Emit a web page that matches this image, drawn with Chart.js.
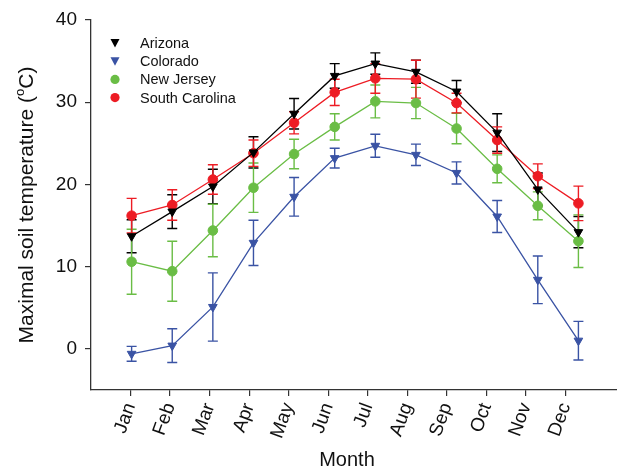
<!DOCTYPE html>
<html>
<head>
<meta charset="utf-8">
<script src="https://cdn.jsdelivr.net/npm/chart.js@4"></script>
<style>
  html, body { margin: 0; padding: 0; background: #fff; }
  canvas { display: block; }
</style>
</head>
<body>
<canvas id="grafico" width="617" height="471"></canvas>
<script>
// Datos
const months = ['Jan', 'Feb', 'Mar', 'Apr', 'May', 'Jun', 'Jul', 'Aug', 'Sep', 'Oct', 'Nov', 'Dec'];
const yTicks = [0, 10, 20, 30, 40];

const arizona = [13.7, 16.7, 19.75, 23.9, 28.6, 33.2, 34.7, 33.7, 31.3, 26.3, 19.4, 14.2];
const arizonaErr = [2.0, 2.05, 2.1, 1.9, 1.85, 1.5, 1.3, 1.4, 1.35, 2.3, 2.0, 1.9];

const colorado = [-0.6, 0.4, 5.1, 12.9, 18.5, 23.2, 24.7, 23.6, 21.4, 16.1, 8.4, 1.0];
const coloradoErr = [0.9, 2.05, 4.15, 2.75, 2.35, 1.2, 1.4, 1.3, 1.35, 1.95, 2.9, 2.35];

const newJersey = [10.6, 9.45, 14.4, 19.6, 23.7, 27.0, 30.1, 29.9, 26.8, 21.9, 17.4, 13.1];
const newJerseyErr = [3.95, 3.65, 3.2, 3.0, 1.8, 1.6, 2.0, 1.9, 1.85, 1.7, 1.7, 3.2];

const southCarolina = [16.2, 17.5, 20.6, 23.8, 27.5, 31.2, 32.9, 32.8, 29.9, 25.4, 21.0, 17.7];
const southCarolinaErr = [2.1, 1.85, 1.8, 1.6, 1.35, 1.6, 1.8, 2.3, 1.2, 1.6, 1.5, 2.1];

const FONT = '"Liberation Sans", Arial, sans-serif';

function serie(label, values, errors, color, style) {
    return {
        label: label,
        data: values.map((v, i) => ({ x: i + 1, y: v })),
        errors: errors,
        borderColor: color,
        backgroundColor: color,
        borderWidth: 1.3,
        pointStyle: style,
        rotation: style === 'triangle' ? 180 : 0,
        pointRadius: style === 'triangle' ? 5 : 4.8,
        pointBorderWidth: 1,
        xAxisID: 'x',
        yAxisID: 'y'
    };
}

// barras de error dibujadas con las escalas del gráfico
const errorBars = {
    id: 'errorBars',
    beforeDatasetsDraw(chart) {
        const ctx = chart.ctx;
        const xs = chart.scales.x, ys = chart.scales.y;
        chart.data.datasets.forEach(ds => {
            ctx.save();
            ctx.strokeStyle = ds.borderColor;
            ctx.lineWidth = 1.4;
            ds.data.forEach((p, i) => {
                const px = xs.getPixelForValue(p.x);
                const top = ys.getPixelForValue(p.y + ds.errors[i]);
                const bot = ys.getPixelForValue(p.y - ds.errors[i]);
                ctx.beginPath();
                ctx.moveTo(px, top); ctx.lineTo(px, bot);
                ctx.moveTo(px - 5, top); ctx.lineTo(px + 5, top);
                ctx.moveTo(px - 5, bot); ctx.lineTo(px + 5, bot);
                ctx.stroke();
            });
            ctx.restore();
        });
    }
};

// leyenda dentro del área del gráfico + títulos de los ejes
const extras = {
    id: 'extras',
    afterDraw(chart) {
        const ctx = chart.ctx;
        const area = chart.chartArea;
        ctx.save();
        ctx.font = '14.5px ' + FONT;
        ctx.textBaseline = 'middle';
        chart.data.datasets.forEach((ds, i) => {
            const y = area.top + 23 + i * 18.2;
            const x = area.left + 24;
            ctx.fillStyle = ds.backgroundColor;
            ctx.beginPath();
            if (ds.pointStyle === 'triangle') {
                ctx.moveTo(x - 4.5, y - 4);
                ctx.lineTo(x + 4.5, y - 4);
                ctx.lineTo(x, y + 4.5);
                ctx.closePath();
            } else {
                ctx.arc(x, y, 4.6, 0, Math.PI * 2);
            }
            ctx.fill();
            ctx.fillStyle = '#111';
            ctx.textAlign = 'left';
            ctx.fillText(ds.label, area.left + 49, y + 1);
        });

        // título eje y con superíndice
        ctx.translate(27, (area.top + area.bottom) / 2);
        ctx.rotate(-Math.PI / 2);
        ctx.fillStyle = '#111';
        ctx.textBaseline = 'middle';
        const big = '21px ' + FONT, small = '13px ' + FONT;
        const p1 = 'Maximal soil temperature (', p2 = 'o', p3 = 'C)';
        ctx.font = big;
        const w1 = ctx.measureText(p1).width, w3 = ctx.measureText(p3).width;
        ctx.font = small;
        const w2 = ctx.measureText(p2).width;
        let x0 = -(w1 + w2 + w3) / 2;
        ctx.textAlign = 'left';
        ctx.font = big; ctx.fillText(p1, x0, 0);
        ctx.font = small; ctx.fillText(p2, x0 + w1, -7);
        ctx.font = big; ctx.fillText(p3, x0 + w1 + w2, 0);
        ctx.restore();

        ctx.save();
        ctx.font = '20px ' + FONT;
        ctx.fillStyle = '#111';
        ctx.textAlign = 'center';
        ctx.textBaseline = 'middle';
        ctx.fillText('Month', 347, 460);
        ctx.restore();
    }
};

document.addEventListener('DOMContentLoaded', function () {
    const ctx = document.getElementById('grafico').getContext('2d');
    new Chart(ctx, {
        type: 'line',
        data: {
            datasets: [
                serie('Arizona', arizona, arizonaErr, '#000000', 'triangle'),
                serie('Colorado', colorado, coloradoErr, 'rgb(58,83,164)', 'triangle'),
                serie('New Jersey', newJersey, newJerseyErr, 'rgb(106,189,69)', 'circle'),
                serie('South Carolina', southCarolina, southCarolinaErr, 'rgb(237,28,36)', 'circle')
            ]
        },
        options: {
            responsive: false,
            animation: false,
            layout: { autoPadding: false, padding: { top: 20, right: 0, left: 0, bottom: 0 } },
            plugins: { legend: { display: false }, tooltip: { enabled: false } },
            scales: {
                // eje de datos (oculto)
                x: { type: 'linear', display: false, min: 0, max: 12.95 },
                // eje con las etiquetas de los meses
                xm: {
                    type: 'linear', position: 'bottom', min: 0, max: 13.3,
                    afterBuildTicks: s => { s.ticks = months.map((m, i) => ({ value: i + 1 })); },
                    afterFit: s => { s.height = 81; s.paddingRight = 0; s.paddingLeft = 0; },
                    grid: { drawOnChartArea: false, tickLength: 6, color: '#333', lineWidth: 1.2 },
                    border: { display: true, color: '#333', width: 1.3 },
                    ticks: {
                        callback: v => months[v - 1],
                        minRotation: 70, maxRotation: 70, autoSkip: false,
                        color: '#111', padding: 4,
                        font: { family: FONT, size: 19 }
                    }
                },
                y: {
                    min: -5, max: 40,
                    afterBuildTicks: s => { s.ticks = yTicks.map(v => ({ value: v })); },
                    afterFit: s => { s.width = 91; },
                    grid: { drawOnChartArea: false, tickLength: 6, color: '#333', lineWidth: 1.2 },
                    border: { display: true, color: '#333', width: 1.3 },
                    ticks: { color: '#111', padding: 8, font: { family: FONT, size: 19 } }
                }
            }
        },
        plugins: [errorBars, extras]
    });
});
</script>
</body>
</html>
